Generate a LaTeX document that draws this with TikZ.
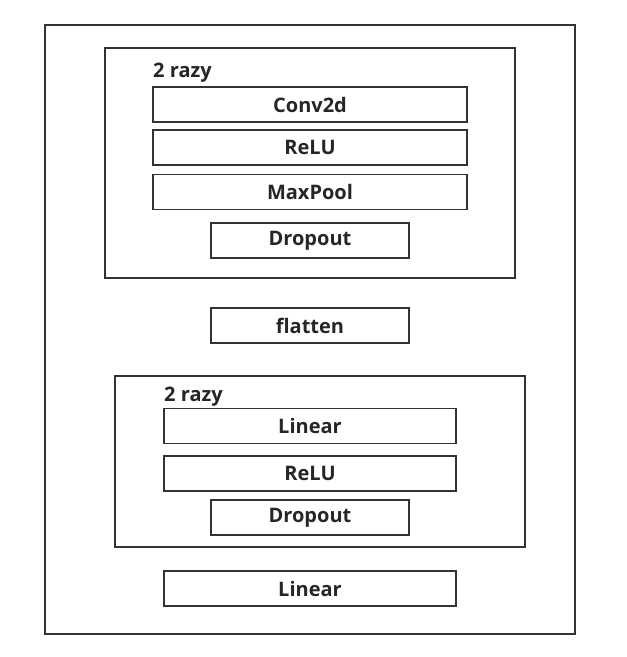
\documentclass[tikz,border=0pt]{standalone}
\usepackage{fontspec}
\setmainfont{Open Sans}
\begin{document}
\begin{tikzpicture}[x=1pt, y=-1pt,
		layer/.style={draw=black!80, line width=1.4pt, rectangle, minimum height=35pt, inner sep=0pt, font=\bfseries\fontsize{20}{24}\selectfont, text=black!85},
		wide/.style={layer, minimum width=314pt},
		mid/.style={layer, minimum width=292pt},
		narrow/.style={layer, minimum width=198pt},
		group/.style={draw=black!80, line width=1.4pt, rectangle, inner sep=0pt},
		repeat/.style={anchor=base west, inner sep=0pt, font=\bfseries\fontsize{20}{24}\selectfont, text=black!85}]
			\useasboundingbox (0,0) rectangle (627,657);
			\node[group, minimum width=530pt, minimum height=609pt] (net) at (310,329.5) {};
			\node[group, minimum width=410pt, minimum height=230pt] (convblock) at (310,163) {};
			\node[repeat] (convrep) at (153,77.5) {2 razy};
			\node[wide] (conv) at (310,104.5) {Conv2d};
			\node[wide] (relua) at (310,147.5) {ReLU};
			\node[wide] (pool) at (310,192) {MaxPool};
			\node[narrow] (dropa) at (310,240.5) {Dropout};
			\node[narrow] (flat) at (310,325.5) {flatten};
			\node[group, minimum width=410pt, minimum height=171pt] (linblock) at (320,461.5) {};
			\node[repeat] (linrep) at (164,401) {2 razy};
			\node[mid] (lina) at (310,426) {Linear};
			\node[mid] (relub) at (310,473.5) {ReLU};
			\node[narrow] (dropb) at (310,517.5) {Dropout};
			\node[mid] (linb) at (310,588.5) {Linear};
		\end{tikzpicture}
\end{document}
